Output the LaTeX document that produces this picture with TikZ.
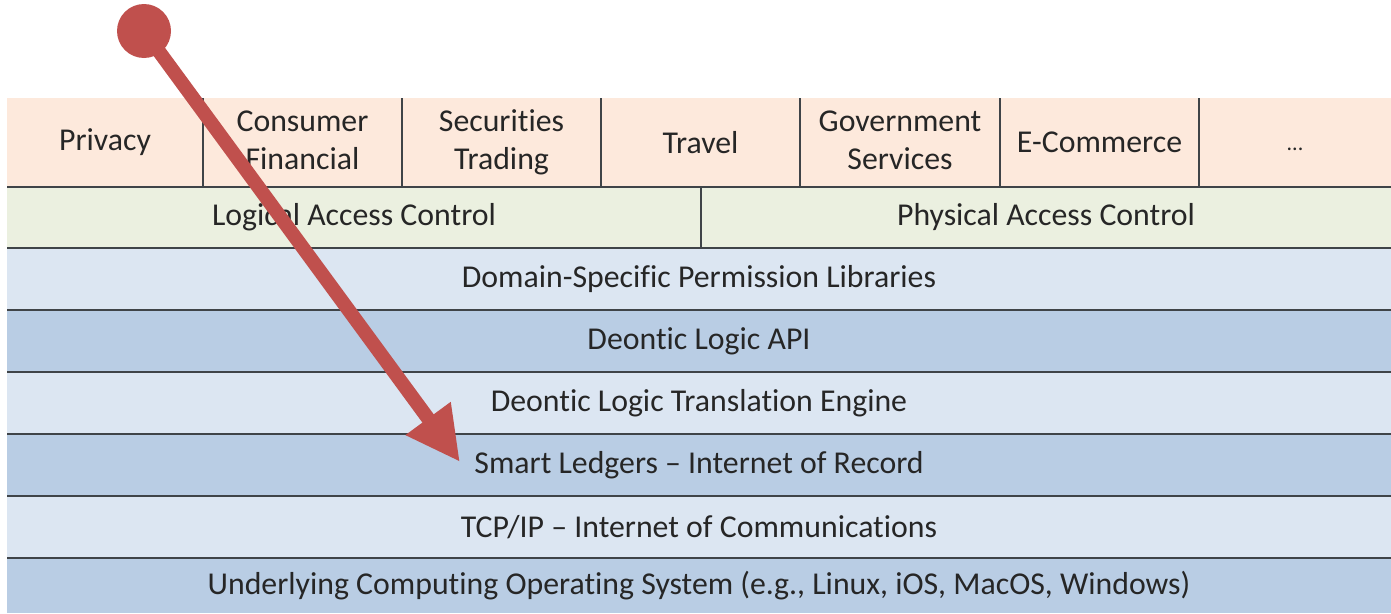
\documentclass[tikz,border=0pt]{standalone}
\usepackage{fontspec}
\setmainfont[Ligatures=NoCommon]{Carlito}
\usetikzlibrary{arrows.meta}
\definecolor{appfill}{HTML}{FDE9DC}
\definecolor{accfill}{HTML}{EBF0E0}
\definecolor{lightblue}{HTML}{DCE6F2}
\definecolor{darkblue}{HTML}{B9CDE4}
\definecolor{sepline}{HTML}{3F4448}
\definecolor{txt}{HTML}{262626}
\definecolor{arrowred}{HTML}{C0504D}
\begin{document}
\begin{tikzpicture}[x=1pt,y=-1pt,
  cell/.style={inner sep=0pt, outer sep=0pt, text=txt, align=center,
    font=\fontsize{31.8}{38}\selectfont},
  sep/.style={draw=sepline, line width=2.4pt},
  vsep/.style={draw=sepline, line width=1.8pt},
  pointer/.style={draw=arrowred, line width=14pt, -{Triangle[length=54pt,width=52pt]}},
  knob/.style={circle, fill=arrowred, minimum size=54pt, inner sep=0pt}]
\useasboundingbox (0,0) rectangle (1391,613);
% top row cells
\node[cell, fill=appfill, minimum width=196pt, minimum height=89pt] (privacy) at (105,142.5) {Privacy};
\node[cell, fill=appfill, minimum width=199pt, minimum height=89pt] (consumer) at (302.5,142.5) {Consumer\\Financial\vphantom{g}};
\node[cell, fill=appfill, minimum width=199pt, minimum height=89pt] (securities) at (501.5,142.5) {Securities\\Trading};
\node[cell, fill=appfill, minimum width=199pt, minimum height=89pt] (travel) at (700.5,142.5) {Travel};
\node[cell, fill=appfill, minimum width=200pt, minimum height=89pt] (government) at (900,142.5) {Government\\Services\vphantom{g}};
\node[cell, fill=appfill, minimum width=199pt, minimum height=89pt] (ecommerce) at (1099.5,142.5) {E-Commerce};
\node[cell, fill=appfill, minimum width=192pt, minimum height=89pt] (more) at (1295,142.5) {\smash{\raisebox{-8pt}{\fontsize{22}{26}\selectfont...}}};
% access control row
\node[cell, fill=accfill, minimum width=694pt, minimum height=61pt] (logical) at (354,217.5) {Logical Access Control};
\node[cell, fill=accfill, minimum width=690pt, minimum height=61pt] (physical) at (1046,217.5) {Physical Access Control};
% layers
\node[cell, fill=lightblue, minimum width=1384pt, minimum height=62pt] (domain) at (699,279) {Domain-Specific Permission Libraries};
\node[cell, fill=darkblue, minimum width=1384pt, minimum height=62pt] (api) at (699,341) {Deontic Logic API};
\node[cell, fill=lightblue, minimum width=1384pt, minimum height=62pt] (engine) at (699,403) {Deontic Logic Translation Engine};
\node[cell, fill=darkblue, minimum width=1384pt, minimum height=62pt] (ledgers) at (699,465) {Smart Ledgers -- Internet of Record};
\node[cell, fill=lightblue, minimum width=1384pt, minimum height=62pt] (tcpip) at (699,527) {TCP/IP -- Internet of Communications};
\node[cell, fill=darkblue, minimum width=1384pt, minimum height=55pt] (os) at (699,585.5) {Underlying Computing Operating System (e.g., Linux, iOS, MacOS, Windows)};
% separators
\foreach \yy in {187,248,310,372,434,496,558} \draw[sep] (7,\yy) -- (1391,\yy);
\foreach \xx in {203,402,601,800,1000,1199} \draw[vsep] (\xx,98) -- (\xx,187);
\draw[vsep] (701,187) -- (701,248);
% arrow
\node[knob] (start) at (144,31) {};
\coordinate (tip) at (460,462);
\draw[pointer] (start.center) -- (tip);
\end{tikzpicture}
\end{document}
